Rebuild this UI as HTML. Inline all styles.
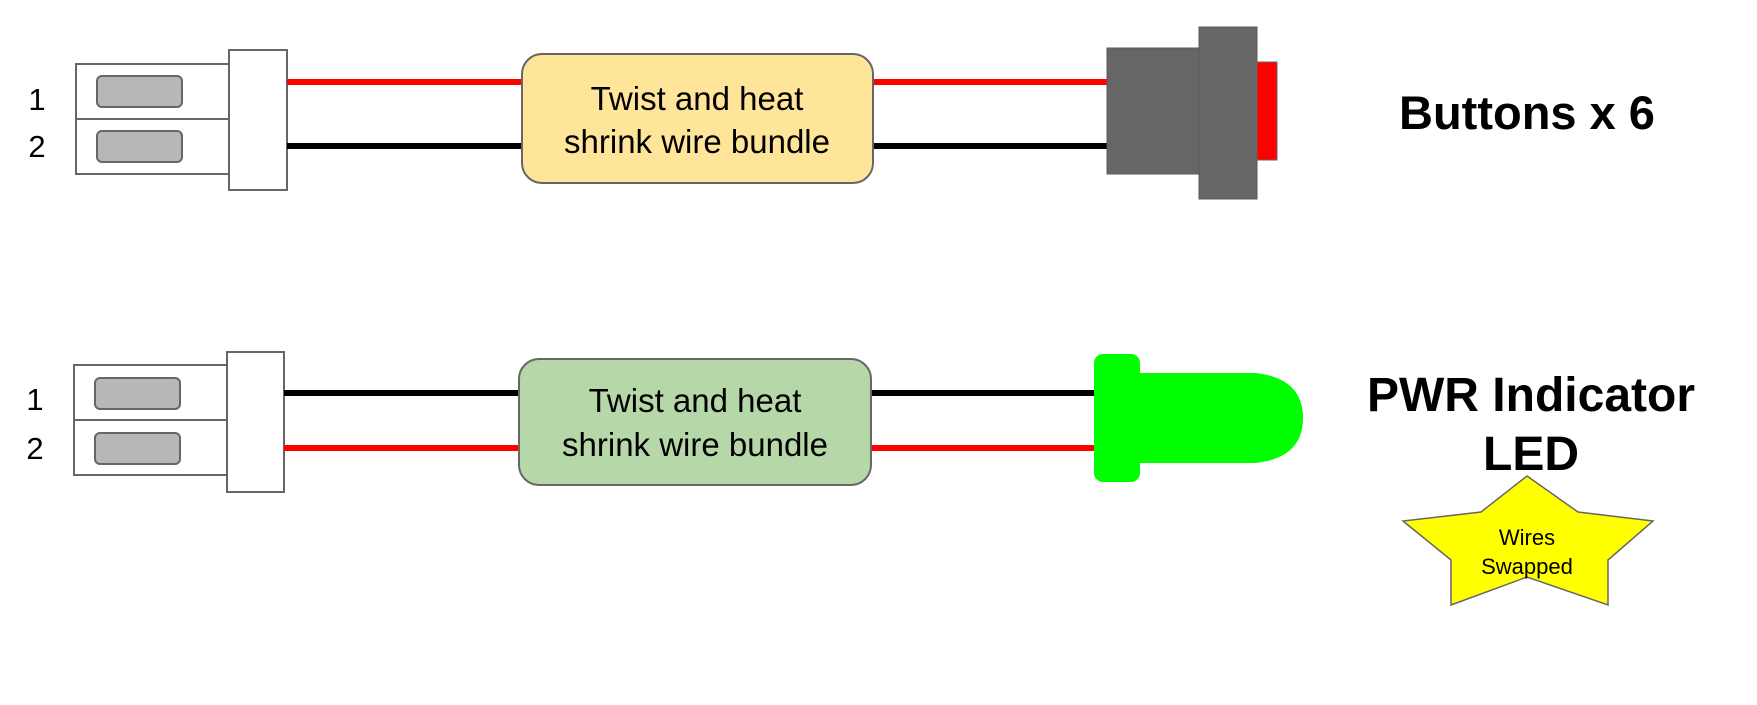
<!DOCTYPE html>
<html><head><style>html,body{margin:0;padding:0;background:#fff}svg{display:block}</style></head>
<body>
<svg width="1757" height="705" viewBox="0 0 1757 705" xmlns="http://www.w3.org/2000/svg" font-family="Liberation Sans, sans-serif">
<!-- Top row -->
<g stroke="#666" stroke-width="2">
<rect x="76" y="64" width="153" height="55" fill="#fff"/>
<rect x="76" y="119" width="153" height="55" fill="#fff"/>
<rect x="229" y="50" width="58" height="140" fill="#fff"/>
<rect x="97" y="76" width="85" height="31" rx="5" fill="#b7b7b7"/>
<rect x="97" y="131" width="85" height="31" rx="5" fill="#b7b7b7"/>
</g>
<text x="37" y="110" font-size="31" text-anchor="middle">1</text>
<text x="37" y="157" font-size="31" text-anchor="middle">2</text>
<rect x="287" y="79" width="235" height="6" fill="#f00"/>
<rect x="287" y="143" width="235" height="6" fill="#000"/>
<rect x="873" y="79" width="234" height="6" fill="#f00"/>
<rect x="873" y="143" width="234" height="6" fill="#000"/>
<rect x="522" y="54" width="351" height="129" rx="20" fill="#ffe599" stroke="#666" stroke-width="2"/>
<text x="697" y="110" font-size="33" text-anchor="middle">Twist and heat</text>
<text x="697" y="153" font-size="33" text-anchor="middle">shrink wire bundle</text>
<rect x="1107" y="48" width="92" height="126" fill="#666" stroke="#595959" stroke-width="1"/>
<rect x="1199" y="27" width="58" height="172" fill="#666" stroke="#595959" stroke-width="1"/>
<rect x="1257" y="62" width="20" height="98" fill="#f00" stroke="#666" stroke-width="1"/>
<text x="1527" y="129" font-size="47" font-weight="bold" text-anchor="middle">Buttons x 6</text>
<!-- Bottom row -->
<g stroke="#666" stroke-width="2">
<rect x="74" y="365" width="153" height="55" fill="#fff"/>
<rect x="74" y="420" width="153" height="55" fill="#fff"/>
<rect x="227" y="352" width="57" height="140" fill="#fff"/>
<rect x="95" y="378" width="85" height="31" rx="5" fill="#b7b7b7"/>
<rect x="95" y="433" width="85" height="31" rx="5" fill="#b7b7b7"/>
</g>
<text x="35" y="410" font-size="31" text-anchor="middle">1</text>
<text x="35" y="459" font-size="31" text-anchor="middle">2</text>
<rect x="284" y="390" width="235" height="6" fill="#000"/>
<rect x="284" y="445" width="235" height="6" fill="#f00"/>
<rect x="871" y="390" width="224" height="6" fill="#000"/>
<rect x="871" y="445" width="224" height="6" fill="#f00"/>
<rect x="519" y="359" width="352" height="126" rx="20" fill="#b6d7a8" stroke="#666" stroke-width="2"/>
<text x="695" y="412" font-size="33" text-anchor="middle">Twist and heat</text>
<text x="695" y="456" font-size="33" text-anchor="middle">shrink wire bundle</text>
<rect x="1094" y="354" width="46" height="128" rx="9" fill="#0f0"/>
<path d="M1138 373 H1255 Q1303 378 1303 418 Q1303 458 1255 463 H1138 Z" fill="#0f0"/>
<text x="1531" y="411" font-size="48" font-weight="bold" text-anchor="middle">PWR Indicator</text>
<text x="1531" y="470" font-size="48" font-weight="bold" text-anchor="middle">LED</text>
<polygon points="1527,476 1578,512 1653,521 1608,560 1608,605 1527,577 1451,605 1451,560 1403,521 1481,512" fill="#ff0" stroke="#666" stroke-width="1.5"/>
<text x="1527" y="545" font-size="22" text-anchor="middle">Wires</text>
<text x="1527" y="574" font-size="22" text-anchor="middle">Swapped</text>
</svg>
</body></html>
